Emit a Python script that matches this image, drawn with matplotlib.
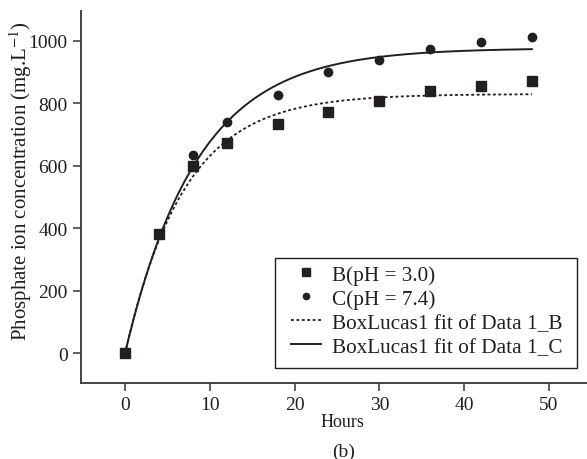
import numpy as np
import matplotlib
matplotlib.use("Agg")
import matplotlib.pyplot as plt
from matplotlib.patches import Rectangle

# datos
hours = [0, 4, 8, 12, 18, 24, 30, 36, 42, 48]
conc_b = [0, 381, 600, 674, 734, 773, 809, 840, 857, 873]
conc_c = [0, 381, 636, 739, 826, 901, 940, 973, 995, 1011]

# parámetros BoxLucas1: y = a * (1 - exp(-b * x))
fit_b = (830, 0.143)
fit_c = (977, 0.118)

x_ticks = [0, 10, 20, 30, 40, 50]
y_ticks = [0, 200, 400, 600, 800, 1000]

ink = "#231f20"
plt.rcParams["font.family"] = ["Liberation Serif", "DejaVu Serif"]
plt.rcParams["mathtext.fontset"] = "stix"

W, H = 587, 460
fig = plt.figure(figsize=(W / 100, H / 100), dpi=100)
ax = fig.add_axes([0.138, 0.165, 0.862, 0.809])

xf = np.linspace(0, 48, 300)
ax.plot(hours, conc_b, "s", color=ink, ms=7.5, label="B(pH = 3.0)", zorder=3)
ax.plot(hours, conc_c, "o", color=ink, ms=6, label="C(pH = 7.4)", zorder=3)
ax.plot(xf, fit_b[0] * (1 - np.exp(-fit_b[1] * xf)), color=ink, lw=1.3,
        linestyle=(0, (1.6, 1.4)), label="BoxLucas1 fit of Data 1_B")
ax.plot(xf, fit_c[0] * (1 - np.exp(-fit_c[1] * xf)), color=ink, lw=1.4,
        label="BoxLucas1 fit of Data 1_C")

ax.set_xlim(-5.2, 54.5)
ax.set_ylim(-96, 1096)
ax.set_xticks(x_ticks)
ax.set_yticks(y_ticks)
ax.tick_params(labelsize=14, length=6, width=1.2, color="#444444", labelcolor=ink)
ax.spines["top"].set_visible(False)
ax.spines["right"].set_visible(False)
for s in ["left", "bottom"]:
    ax.spines[s].set_color("#444444")
    ax.spines[s].set_linewidth(1.4)

# caja de la leyenda (con más margen a la izquierda, como en el original)
box = Rectangle((275 / W, 1 - 369 / H), 302 / W, 110 / H, transform=fig.transFigure,
                facecolor="white", edgecolor=ink, lw=1.0, zorder=4, clip_on=False)
ax.add_patch(box)

leg = ax.legend(loc="upper left", bbox_to_anchor=(291 / W, 1 - 266 / H),
                bbox_transform=fig.transFigure, fontsize=15.3, frameon=False,
                handlelength=1.4, handletextpad=0.55, borderpad=0,
                labelspacing=0.19, numpoints=1, borderaxespad=0,
                markerscale=0.75)
leg.set_zorder(5)
for t in leg.get_texts():
    t.set_color(ink)

fig.text(0.036, 1 - 181 / H, "Phosphate ion concentration (mg.L$^{-1}$)",
         rotation=90, ha="center", va="center", fontsize=15, color=ink)
fig.text(342 / W, 1 - 423 / H, "Hours", ha="center", va="center",
         fontsize=13, color=ink)
fig.text(344 / W, 1 - 452 / H, "(b)", ha="center", va="center",
         fontsize=14, color=ink)

fig.savefig("out.png", dpi=100)
